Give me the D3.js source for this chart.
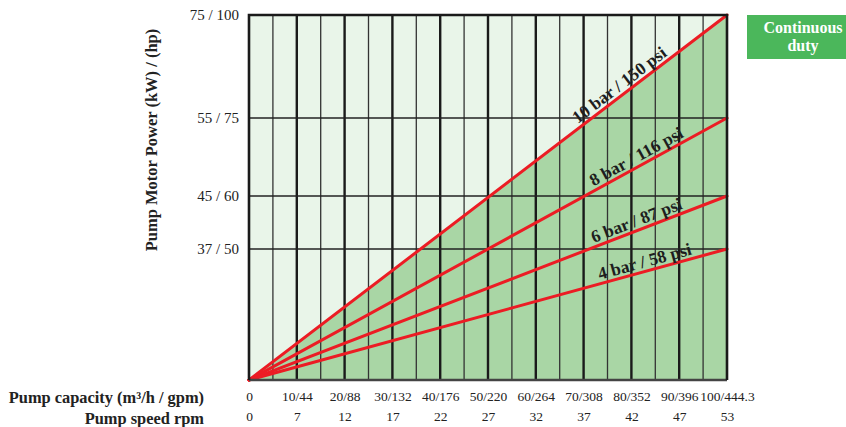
<!DOCTYPE html>
<html><head><meta charset="utf-8">
<script src="https://cdn.jsdelivr.net/npm/d3@7"></script>
<style>
html,body{margin:0;padding:0;background:#fff;}
svg{display:block;font-family:"Liberation Serif","DejaVu Serif",serif;}
</style></head>
<body>
<svg id="chart" width="846" height="427"></svg>
<script>
// ---- data ----
const capacityTicks = [0,10,20,30,40,50,60,70,80,90,100];
const capacityLabels = ["0","10/44","20/88","30/132","40/176","50/220","60/264","70/308","80/352","90/396","100/444.3"];
const rpmLabels = ["0","7","12","17","22","27","32","37","42","47","53"];
const minorGrid = [5,15,25,35,45,55,65,75,85,95];
const powerTicks = [37,45,55,75];
const powerLabels = ["37 / 50","45 / 60","55 / 75","75 / 100"];
const pressureLabels = ["10 bar / 150 psi","8 bar / 116 psi","6 bar / 87 psi","4 bar / 58 psi"];
const pressurePower = [75,55,45,37];   // kW at 100 m3/h
const labelAt = [78.7,82,81.8,83.3];  // capacity where label is centred

// ---- layout ----
const svg = d3.select("#chart");
const L = 249, R = 727, T = 15, B = 380;
const x = d3.scaleLinear().domain([0,100]).range([L,R]);
const y = d3.scaleLinear().domain([0,37,45,55,75]).range([B,249,196,118,T]);

const lightGreen = "#e9f5e9", darkGreen = "#a9d6a5", red = "#ec1c24", ink = "#1e1e1e";

// background
svg.append("rect").attr("x",L).attr("y",T).attr("width",R-L).attr("height",B-T).attr("fill",lightGreen);
// continuous duty region (below the highest pressure line)
const maxP = d3.max(pressurePower);
svg.append("path")
  .attr("d", d3.line()([[x(0),y(0)],[x(100),y(maxP)],[x(100),y(0)]]) + "Z")
  .attr("fill", darkGreen);

// vertical grid
svg.selectAll(".vminor").data(minorGrid).join("line")
  .attr("x1",d=>x(d)).attr("x2",d=>x(d)).attr("y1",T).attr("y2",B)
  .attr("stroke","#333").attr("stroke-width",1.3);
svg.selectAll(".vmajor").data(capacityTicks.filter(d=>d>0&&d<100)).join("line")
  .attr("x1",d=>x(d)).attr("x2",d=>x(d)).attr("y1",T).attr("y2",B)
  .attr("stroke","#1a1a1a").attr("stroke-width",2.4);
// horizontal grid
svg.selectAll(".hgrid").data(powerTicks.filter(d=>d<75)).join("line")
  .attr("x1",L).attr("x2",R).attr("y1",d=>y(d)).attr("y2",d=>y(d))
  .attr("stroke","#222").attr("stroke-width",1.3);

// pressure lines
svg.selectAll(".pline").data(pressurePower).join("line")
  .attr("x1",x(0)).attr("y1",y(0)).attr("x2",x(100)).attr("y2",d=>y(d))
  .attr("stroke",red).attr("stroke-width",3).attr("stroke-linecap","round");

// pressure labels
pressurePower.forEach((p,i)=>{
  const x0=x(0), y0=y(0), x1=x(100), y1=y(p);
  const ang = Math.atan2(y1-y0, x1-x0)*180/Math.PI;
  const cx = x(labelAt[i]);
  const cy = y0 + (y1-y0)*(cx-x0)/(x1-x0);
  svg.append("text")
    .attr("transform",`translate(${cx},${cy}) rotate(${ang}) translate(0,-4)`)
    .attr("text-anchor","middle")
    .attr("font-size",17.5).attr("font-weight","bold").attr("fill",ink)
    .text(pressureLabels[i]);
});

// border
svg.append("line").attr("x1",L).attr("x2",R).attr("y1",B).attr("y2",B).attr("stroke","#444").attr("stroke-width",2.6);
svg.append("path").attr("d",`M${L},${B}V${T}H${R}V${B}`).attr("fill","none").attr("stroke","#1a1a1a").attr("stroke-width",2.6);

// y axis
const yAxis = d3.axisLeft(y).tickValues(powerTicks).tickSize(0).tickPadding(10)
  .tickFormat((d,i)=>powerLabels[i]);
const gy = svg.append("g").attr("transform",`translate(${L},0)`).call(yAxis);
gy.select(".domain").remove();
gy.selectAll("text").attr("font-size",15).attr("fill","#222").attr("font-family","Liberation Serif");

// x axis rows
const xAxis1 = d3.axisBottom(x).tickValues(capacityTicks).tickSize(0).tickPadding(0)
  .tickFormat((d,i)=>capacityLabels[i]);
const gx1 = svg.append("g").attr("transform",`translate(0,${B+11})`).call(xAxis1);
gx1.select(".domain").remove();
gx1.selectAll("text").attr("font-size",13.5).attr("fill","#222").attr("font-family","Liberation Serif");

const xAxis2 = d3.axisBottom(x).tickValues(capacityTicks).tickSize(0).tickPadding(0)
  .tickFormat((d,i)=>rpmLabels[i]);
const gx2 = svg.append("g").attr("transform",`translate(0,${B+31})`).call(xAxis2);
gx2.select(".domain").remove();
gx2.selectAll("text").attr("font-size",13.5).attr("fill","#222").attr("font-family","Liberation Serif");

// axis titles
svg.append("text").attr("x",204).attr("y",403).attr("text-anchor","end")
  .attr("font-size",16.4).attr("font-weight","bold").attr("fill","#222")
  .text("Pump capacity (m³/h / gpm)");
svg.append("text").attr("x",204).attr("y",424).attr("text-anchor","end")
  .attr("font-size",16.4).attr("font-weight","bold").attr("fill","#222")
  .text("Pump speed rpm");
svg.append("text").attr("transform","translate(157,140) rotate(-90)").attr("text-anchor","middle")
  .attr("font-size",16.5).attr("font-weight","bold").attr("fill","#222")
  .text("Pump Motor Power (kW) / (hp)");

// legend box
svg.append("rect").attr("x",747).attr("y",15).attr("width",99).attr("height",44).attr("fill","#4bb75b");
svg.append("text").attr("x",803).attr("y",33).attr("text-anchor","middle")
  .attr("font-size",16).attr("font-weight","bold").attr("fill","#fff").text("Continuous");
svg.append("text").attr("x",803).attr("y",51).attr("text-anchor","middle")
  .attr("font-size",16).attr("font-weight","bold").attr("fill","#fff").text("duty");
</script>
</body></html>
